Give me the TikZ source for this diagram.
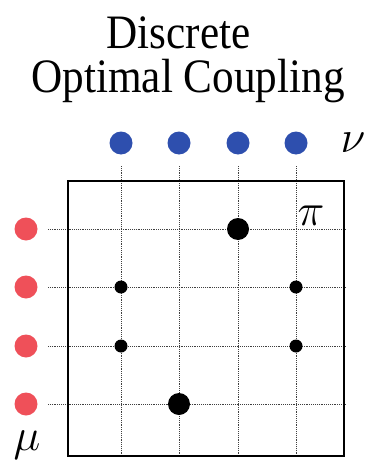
\documentclass[tikz,border=0pt]{standalone}
\usepackage{fix-cm}
\usepackage{fontspec}
\IfFontExistsTF{LiberationSerif-Regular.ttf}
  {\newfontfamily\titlefont{LiberationSerif-Regular.ttf}}
  {\newfontfamily\titlefont{Latin Modern Roman}}
\usepackage{tikz}
\usetikzlibrary{positioning}
\definecolor{muRed}{HTML}{EF5059}
\definecolor{nuBlue}{HTML}{2E4FAE}

\begin{document}
\begin{tikzpicture}[
  x=0.75pt, y=-0.75pt,
  title/.style={font=\titlefont\fontsize{36}{32.25}\selectfont, inner sep=0pt, align=center, anchor=base, xscale=0.9, transform shape},
  mathlabel/.style={font=\fontsize{34}{40}\selectfont, inner sep=0pt},
  mudot/.style={circle, fill=muRed, inner sep=0pt, minimum size=17.25pt},
  nudot/.style={circle, fill=nuBlue, inner sep=0pt, minimum size=17.25pt},
  bigmass/.style={circle, fill=black, inner sep=0pt, minimum size=16.5pt},
  smallmass/.style={circle, fill=black, inner sep=0pt, minimum size=9.75pt},
  gridline/.style={black!75, line width=0.7pt, dash pattern=on 0.7pt off 0.7pt},
  frame/.style={draw, line width=1.5pt, inner sep=0pt, minimum width=207pt, minimum height=206.25pt},
]
\useasboundingbox (0,0) rectangle (367,467);

% title
\node[title] (title) at (188,92) {\hspace*{-16pt}Discrete\\Optimal Coupling};

% grid of the coupling
\foreach \x [count=\i] in {121,179,238,296} {
  \node[nudot] (nu\i) at (\x,143) {};
  \coordinate (ctop\i) at (\x,166);
  \coordinate (cbot\i) at (\x,456);
  \draw[gridline] (ctop\i) -- (cbot\i);
}
\foreach \y [count=\j] in {229,287,346,404} {
  \node[mudot] (mu\j) at (26,\y) {};
  \coordinate (rl\j) at (48,\y);
  \coordinate (rr\j) at (345,\y);
  \draw[gridline] (rl\j) -- (rr\j);
}

\node[frame] (plan) at (206,318.5) {};

% transport plan masses
\node[bigmass] (m31) at (ctop3 |- rl1) {};
\node[smallmass] (m12) at (ctop1 |- rl2) {};
\node[smallmass] (m42) at (ctop4 |- rl2) {};
\node[smallmass] (m13) at (ctop1 |- rl3) {};
\node[smallmass] (m43) at (ctop4 |- rl3) {};
\node[bigmass] (m24) at (ctop2 |- rl4) {};

% labels
\node[mathlabel] (pi) at (311,216) {$\pi$};
\node[mathlabel] (nu) at (353,143) {$\nu$};
\node[mathlabel] (mu) at (27,445) {$\mu$};
\end{tikzpicture}
\end{document}
